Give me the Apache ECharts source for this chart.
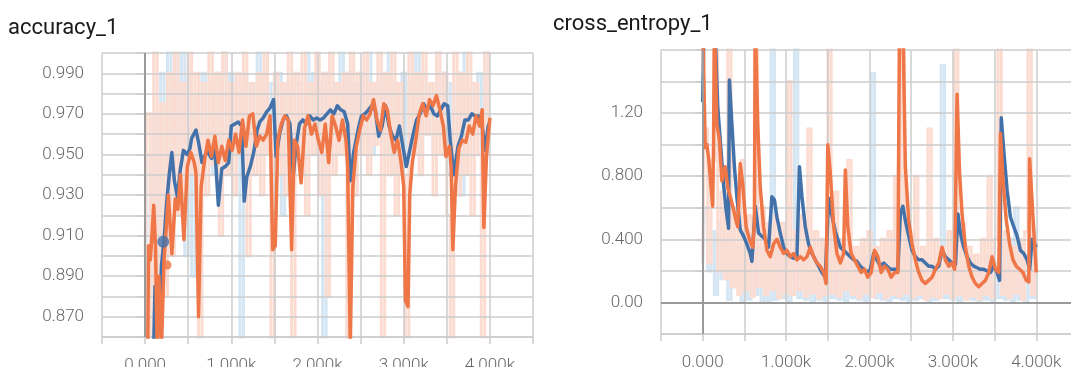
<!DOCTYPE html>
<html>
<head>
<meta charset="utf-8">
<script src="https://cdn.jsdelivr.net/npm/echarts/dist/echarts.min.js"></script>
<style>
html, body { margin: 0; padding: 0; background: #fff; }
#chart { width: 1071px; height: 367px; }
</style>
</head>
<body>
<div id="chart"></div>
<script>
// x values are in thousands of steps
var xTickValues = [0, 1, 2, 3, 4];
var xTickLabels = ['0.000', '1.000k', '2.000k', '3.000k', '4.000k'];
var accTickValues = [0.87, 0.89, 0.91, 0.93, 0.95, 0.97, 0.99];
var accTickLabels = ['0.870', '0.890', '0.910', '0.930', '0.950', '0.970', '0.990'];
var ceTickValues = [0, 0.4, 0.8, 1.2];
var ceTickLabels = ['0.00', '0.400', '0.800', '1.20'];

// raw (unsmoothed) steps
var rawSteps = [0,0.04,0.08,0.12,0.16,0.2,0.24,0.28,0.32,0.36,0.4,0.44,0.48,0.52,0.56,0.6,0.64,0.68,0.72,0.76,0.8,0.84,0.88,0.92,0.96,1,1.04,1.08,1.12,1.16,1.2,1.24,1.28,1.32,1.36,1.4,1.44,1.48,1.52,1.56,1.6,1.64,1.68,1.72,1.76,1.8,1.84,1.88,1.92,1.96,2,2.04,2.08,2.12,2.16,2.2,2.24,2.28,2.32,2.36,2.4,2.44,2.48,2.52,2.56,2.6,2.64,2.68,2.72,2.76,2.8,2.84,2.88,2.92,2.96,3,3.04,3.08,3.12,3.16,3.2,3.24,3.28,3.32,3.36,3.4,3.44,3.48,3.52,3.56,3.6,3.64,3.68,3.72,3.76,3.8,3.84,3.88,3.92,3.96,4];

// accuracy raw values
var accRawOrange = [0.90,0.97,0.86,1.01,0.85,0.975,0.88,0.99,0.90,1.01,
  0.92,0.985,0.93,1.01,0.94,0.99,0.84,0.985,0.93,1.01,
  0.945,0.99,0.91,1.01,0.94,0.985,0.93,0.99,0.95,1.01,
  0.90,0.985,0.94,0.99,0.93,1.01,0.95,0.85,0.99,0.94,
  0.985,0.93,1.01,0.86,0.99,0.945,1.01,0.92,0.985,0.95,
  1.01,0.93,0.99,0.88,1.01,0.94,0.985,0.95,0.99,0.84,
  1.01,0.93,0.99,0.95,1.01,0.94,0.985,0.955,1.01,0.86,
  0.99,0.94,1.01,0.92,0.985,0.94,0.84,1.01,0.95,0.99,
  0.94,1.01,0.96,0.985,0.93,1.01,0.95,0.99,0.92,0.85,
  1.01,0.93,0.99,0.94,1.01,0.92,0.985,0.95,0.85,1.01,
  0.95];
var accRawBlue = [0.84,0.95,0.88,0.97,0.86,0.99,0.90,1.01,0.93,1.01,
  0.95,1.01,0.90,0.99,0.89,0.98,0.94,0.99,0.95,0.985,
  0.94,0.99,0.95,1.01,0.94,0.99,0.95,0.985,0.84,0.99,
  0.95,0.985,0.96,1.01,0.95,0.99,0.96,0.985,0.95,0.99,
  0.92,0.985,0.95,0.99,0.96,0.985,0.95,1.01,0.96,0.99,
  0.95,0.985,0.85,0.99,0.96,0.985,0.95,1.01,0.96,0.99,
  0.93,0.985,0.95,0.99,0.96,1.01,0.95,0.985,0.96,0.99,
  0.95,1.01,0.94,0.985,0.96,0.99,0.95,0.985,0.96,1.01,
  0.95,0.99,0.96,0.985,0.95,1.01,0.96,0.99,0.94,0.985,
  0.95,0.99,0.93,1.01,0.95,0.985,0.96,0.99,0.95,1.01,
  0.96];

// accuracy smoothed [step(k), value]
var accBlue = [[0.10,0.855],[0.115,0.885],[0.13,0.862],[0.15,0.875],[0.17,0.87],[0.19,0.895],[0.22,0.908],[0.25,0.926],[0.28,0.94],[0.31,0.951],
  [0.34,0.937],[0.375,0.929],[0.41,0.943],[0.445,0.952],[0.49,0.950],[0.52,0.953],[0.54,0.958],[0.59,0.962],[0.62,0.956],[0.66,0.946],
  [0.70,0.950],[0.73,0.951],[0.77,0.948],[0.81,0.952],[0.85,0.925],[0.89,0.943],[0.93,0.944],[0.97,0.946],[1.00,0.964],[1.04,0.965],
  [1.08,0.966],[1.12,0.964],[1.15,0.927],[1.18,0.939],[1.22,0.944],[1.26,0.951],[1.30,0.962],[1.33,0.966],[1.37,0.968],[1.41,0.971],
  [1.45,0.973],[1.49,0.977],[1.52,0.949],[1.56,0.96],[1.60,0.967],[1.64,0.969],[1.68,0.965],[1.72,0.94],[1.75,0.954],[1.79,0.965],
  [1.83,0.967],[1.87,0.965],[1.91,0.969],[1.95,0.967],[1.99,0.968],[2.03,0.967],[2.07,0.968],[2.11,0.97],[2.15,0.972],[2.19,0.97],
  [2.23,0.974],[2.27,0.972],[2.31,0.971],[2.35,0.965],[2.38,0.937],[2.42,0.951],[2.47,0.962],[2.51,0.969],[2.55,0.97],[2.59,0.972],
  [2.63,0.974],[2.67,0.972],[2.71,0.959],[2.75,0.964],[2.79,0.974],[2.83,0.964],[2.87,0.959],[2.91,0.957],[2.95,0.964],[2.99,0.954],
  [3.03,0.944],[3.07,0.952],[3.11,0.96],[3.15,0.967],[3.19,0.97],[3.23,0.975],[3.27,0.972],[3.31,0.974],[3.35,0.97],[3.39,0.969],
  [3.43,0.972],[3.47,0.975],[3.51,0.974],[3.54,0.957],[3.58,0.94],[3.63,0.954],[3.67,0.959],[3.71,0.967],[3.75,0.967],[3.79,0.97],
  [3.83,0.969],[3.87,0.969],[3.91,0.964],[3.95,0.952],[3.98,0.964],[4.00,0.966]];
var accOrange = [[0.03,0.85],[0.04,0.905],[0.06,0.898],[0.08,0.91],[0.10,0.925],[0.12,0.905],[0.14,0.855],[0.16,0.89],[0.19,0.855],[0.22,0.898],
  [0.255,0.92],[0.27,0.93],[0.31,0.901],[0.35,0.928],[0.38,0.923],[0.41,0.94],[0.45,0.908],[0.49,0.944],[0.53,0.951],[0.57,0.946],
  [0.59,0.941],[0.62,0.87],[0.65,0.934],[0.69,0.947],[0.73,0.957],[0.77,0.949],[0.81,0.959],[0.85,0.946],[0.89,0.954],[0.93,0.947],
  [0.97,0.957],[1.01,0.952],[1.05,0.96],[1.09,0.951],[1.13,0.967],[1.17,0.954],[1.21,0.969],[1.25,0.97],[1.29,0.954],[1.33,0.959],
  [1.37,0.957],[1.41,0.96],[1.45,0.969],[1.48,0.903],[1.51,0.905],[1.54,0.957],[1.58,0.965],[1.62,0.969],[1.66,0.967],[1.70,0.903],
  [1.73,0.957],[1.77,0.954],[1.81,0.936],[1.85,0.963],[1.89,0.969],[1.93,0.96],[1.97,0.965],[2.01,0.957],[2.05,0.951],[2.09,0.965],
  [2.13,0.946],[2.17,0.969],[2.21,0.964],[2.25,0.957],[2.29,0.967],[2.33,0.957],[2.35,0.944],[2.38,0.855],[2.41,0.934],[2.45,0.954],
  [2.49,0.962],[2.53,0.969],[2.57,0.967],[2.61,0.97],[2.65,0.977],[2.69,0.967],[2.73,0.962],[2.77,0.975],[2.81,0.972],[2.85,0.96],
  [2.89,0.951],[2.93,0.957],[2.97,0.946],[3.00,0.934],[3.02,0.878],[3.05,0.875],[3.07,0.93],[3.10,0.946],[3.14,0.957],[3.18,0.97],
  [3.22,0.975],[3.26,0.969],[3.30,0.977],[3.34,0.974],[3.38,0.979],[3.42,0.972],[3.46,0.964],[3.49,0.949],[3.53,0.954],[3.55,0.944],
  [3.57,0.903],[3.60,0.934],[3.64,0.953],[3.68,0.957],[3.72,0.956],[3.76,0.964],[3.80,0.96],[3.84,0.969],[3.88,0.964],[3.91,0.972],
  [3.93,0.914],[3.96,0.949],[4.00,0.968]];
var accBlueMarker = [[0.21, 0.907]];
var accOrangeMarker = [[0.255, 0.8955]];

// cross entropy raw values
var ceRawOrange = [0.30,1.10,0.25,0.90,1.70,0.20,0.70,0.15,1.70,0.10,
  0.60,0.05,0.90,0.08,0.55,0.04,1.70,0.10,0.60,0.05,
  0.50,0.08,0.55,0.03,0.50,0.06,1.40,0.05,0.45,0.08,
  0.55,0.04,1.10,0.06,0.45,0.03,0.40,0.05,1.70,0.06,
  0.70,0.04,0.40,0.08,0.90,0.05,0.35,0.03,0.40,0.06,
  0.45,0.04,0.35,0.07,0.40,0.03,0.45,0.05,0.80,0.04,
  1.70,0.06,0.45,0.03,0.80,0.05,0.35,0.02,1.10,0.04,
  0.40,0.03,0.35,0.06,0.45,0.03,1.70,0.05,0.50,0.02,
  0.35,0.04,0.30,0.02,0.40,0.05,0.80,0.03,0.40,1.70,
  0.05,0.45,0.03,0.35,0.06,0.40,0.02,0.45,1.70,0.05,
  0.30];
var ceRawBlue = [0.25,0.60,0.20,0.45,0.05,0.50,0.15,0.40,0.02,0.45,
  0.10,0.35,0.00,0.40,0.02,0.45,0.05,0.35,0.01,0.30,
  0.00,1.70,0.02,0.35,0.03,0.40,0.01,0.30,1.70,0.03,
  0.30,0.02,0.35,0.00,0.30,0.02,0.40,0.01,0.50,0.03,
  0.30,0.02,0.35,0.01,0.25,0.03,0.30,0.02,0.35,0.01,
  0.30,1.45,0.03,0.25,0.02,0.30,0.01,0.35,0.03,0.30,
  0.02,0.40,0.01,0.30,0.02,0.25,0.03,0.30,0.01,0.25,
  0.02,0.30,1.50,0.03,0.25,0.02,0.40,0.01,0.25,0.03,
  0.30,0.02,0.25,0.00,0.20,0.02,0.30,0.01,0.25,0.03,
  0.35,0.02,0.40,0.01,0.60,0.02,0.30,0.00,0.25,0.03,
  0.45];

// cross entropy smoothed
var ceBlue = [[0.00,1.27],[0.02,1.9],[0.08,2.1],[0.15,1.7],[0.18,1.24],[0.21,1.03],[0.25,0.75],[0.28,0.59],[0.31,0.47],[0.32,1.41],
  [0.35,1.13],[0.38,0.86],[0.41,0.67],[0.45,0.46],[0.49,0.42],[0.53,0.37],[0.57,0.31],[0.59,0.26],[0.63,0.61],[0.67,0.44],
  [0.71,0.42],[0.75,0.40],[0.79,0.35],[0.83,0.67],[0.86,0.65],[0.89,0.54],[0.93,0.44],[0.97,0.35],[1.01,0.31],[1.05,0.29],
  [1.09,0.28],[1.13,0.29],[1.16,0.86],[1.19,0.67],[1.23,0.48],[1.27,0.37],[1.31,0.31],[1.35,0.27],[1.39,0.23],[1.43,0.19],
  [1.47,0.16],[1.51,0.66],[1.55,0.55],[1.59,0.45],[1.62,0.40],[1.65,0.35],[1.69,0.33],[1.73,0.31],[1.77,0.29],[1.81,0.27],
  [1.85,0.26],[1.89,0.23],[1.93,0.21],[1.97,0.19],[2.01,0.21],[2.05,0.31],[2.09,0.27],[2.13,0.23],[2.17,0.25],[2.21,0.23],
  [2.25,0.21],[2.29,0.21],[2.34,0.21],[2.37,0.56],[2.40,0.61],[2.43,0.52],[2.47,0.42],[2.51,0.33],[2.55,0.29],[2.59,0.27],
  [2.63,0.27],[2.67,0.25],[2.71,0.23],[2.75,0.23],[2.79,0.21],[2.83,0.23],[2.87,0.33],[2.91,0.29],[2.95,0.27],[2.99,0.25],
  [3.03,0.24],[3.06,0.56],[3.09,0.44],[3.13,0.35],[3.17,0.29],[3.21,0.25],[3.25,0.23],[3.29,0.22],[3.33,0.21],[3.37,0.21],
  [3.41,0.20],[3.45,0.19],[3.49,0.23],[3.53,0.19],[3.56,0.14],[3.58,1.17],[3.61,0.96],[3.65,0.71],[3.69,0.54],[3.73,0.48],
  [3.77,0.42],[3.81,0.33],[3.85,0.31],[3.89,0.27],[3.92,0.21],[3.95,0.40],[4.00,0.35]];
var ceOrange = [[0.00,1.8],[0.03,0.98],[0.05,1.0],[0.07,0.92],[0.09,0.8],[0.10,0.73],[0.12,0.61],[0.13,1.0],[0.14,1.8],[0.17,1.13],
  [0.20,1.03],[0.23,0.77],[0.27,0.86],[0.30,0.73],[0.33,0.67],[0.36,0.61],[0.39,0.54],[0.42,0.48],[0.45,0.88],[0.48,0.75],
  [0.52,0.48],[0.56,0.40],[0.60,0.35],[0.62,0.5],[0.63,1.8],[0.66,1.13],[0.69,0.73],[0.73,0.48],[0.77,0.33],[0.81,0.29],
  [0.85,0.37],[0.89,0.40],[0.93,0.35],[0.97,0.31],[1.01,0.33],[1.05,0.29],[1.09,0.31],[1.13,0.27],[1.17,0.29],[1.21,0.27],
  [1.25,0.29],[1.29,0.35],[1.33,0.29],[1.37,0.25],[1.41,0.23],[1.45,0.19],[1.48,0.12],[1.50,1.0],[1.53,0.82],[1.57,0.48],
  [1.61,0.31],[1.65,0.25],[1.69,0.31],[1.71,0.84],[1.74,0.48],[1.78,0.31],[1.82,0.27],[1.86,0.23],[1.90,0.19],[1.94,0.21],
  [1.98,0.16],[2.02,0.19],[2.06,0.33],[2.10,0.29],[2.14,0.19],[2.18,0.23],[2.22,0.21],[2.26,0.16],[2.30,0.19],[2.34,0.19],
  [2.36,1.8],[2.40,1.8],[2.43,0.86],[2.47,0.52],[2.51,0.37],[2.55,0.27],[2.59,0.19],[2.63,0.14],[2.67,0.12],[2.71,0.14],
  [2.75,0.16],[2.79,0.21],[2.83,0.25],[2.87,0.35],[2.91,0.27],[2.95,0.23],[2.99,0.25],[3.02,0.21],[3.05,1.32],[3.08,0.82],
  [3.11,0.56],[3.15,0.35],[3.19,0.23],[3.23,0.16],[3.27,0.12],[3.31,0.10],[3.35,0.12],[3.39,0.14],[3.43,0.19],[3.47,0.29],
  [3.51,0.21],[3.55,0.19],[3.57,1.07],[3.60,0.78],[3.64,0.52],[3.68,0.37],[3.72,0.27],[3.76,0.23],[3.80,0.21],[3.84,0.19],
  [3.88,0.14],[3.91,0.13],[3.92,0.91],[3.96,0.54],[4.00,0.19]];

var fontFamily = 'Roboto, "Helvetica Neue", Arial, sans-serif';
var gridColor = '#cccccc';
var zeroColor = '#9a9a9a';
var blueColor = '#4372aa';
var orangeColor = '#ef7646';
var blueRawColor = '#d4e5f3';
var orangeRawColor = '#fcdcd1';

function pick(values, labels, v) {
    for (var i = 0; i < values.length; i++) {
        if (Math.abs(values[i] - v) < 1e-6) return labels[i];
    }
    return '';
}

function zip(steps, vals) {
    var out = [];
    var n = Math.min(steps.length, vals.length);
    for (var i = 0; i < n; i++) out.push([steps[i], vals[i]]);
    return out;
}

// axes sit above the pale raw stripes (z 2) so grid lines show through
function makeXAxis(gridIndex) {
    return {
        type: 'value', gridIndex: gridIndex, z: 2,
        min: -0.5, max: 4.5, interval: 0.5,
        axisLine: { show: true, onZero: false, lineStyle: { color: gridColor, width: 1.5 } },
        axisTick: { show: true, length: 7, lineStyle: { color: gridColor, width: 1.5 } },
        splitLine: { show: true, lineStyle: { color: gridColor, width: 1.5 } },
        axisLabel: {
            margin: 20, fontSize: 17, fontWeight: 300, color: '#666', fontFamily: fontFamily,
            formatter: function (v) { return pick(xTickValues, xTickLabels, v); }
        }
    };
}

function makeYAxis(gridIndex, min, max, interval, tv, tl) {
    return {
        type: 'value', gridIndex: gridIndex, z: 2,
        min: min, max: max, interval: interval,
        axisLine: { show: true, lineStyle: { color: gridColor, width: 1.5 } },
        axisTick: { show: true, length: 8, lineStyle: { color: gridColor, width: 1.5 } },
        splitLine: { show: true, lineStyle: { color: gridColor, width: 1.5 } },
        axisLabel: {
            margin: 18, fontSize: 17, fontWeight: 300, color: '#666', fontFamily: fontFamily,
            formatter: function (v) { return pick(tv, tl, v); }
        }
    };
}

function lineSeries(idx, data, color, width, z) {
    return {
        type: 'line', xAxisIndex: idx, yAxisIndex: idx, data: data,
        showSymbol: false, symbol: 'none', silent: true, z: z,
        lineStyle: { color: color, width: width, join: 'round' },
        clip: true
    };
}

// raw runs drawn as pale vertical stripes
function rawSeries(idx, data, color, z) {
    var s = lineSeries(idx, data, color, 3, z);
    s.step = 'middle';
    s.lineStyle.join = 'miter';
    return s;
}

var zeroLine = { symbol: ['none', 'none'], silent: true, label: { show: false },
    lineStyle: { color: zeroColor, width: 2, type: 'solid' } };

// empty series that only carry the zero lines
var zeroAcc = lineSeries(0, [], zeroColor, 1, 2.5);
zeroAcc.markLine = Object.assign({}, zeroLine, { data: [{ xAxis: 0 }] });
var zeroCe = lineSeries(1, [], zeroColor, 1, 2.5);
zeroCe.markLine = Object.assign({}, zeroLine, { data: [{ xAxis: 0 }, { yAxis: 0 }] });

var myChart = echarts.init(document.getElementById('chart'), null, { renderer: 'canvas' });
var option = {
    animation: false,
    backgroundColor: '#ffffff',
    title: [
        { text: 'accuracy_1', left: 8, top: 17, padding: 0,
          textStyle: { fontSize: 22, fontWeight: 'normal', color: '#1a1a1a', fontFamily: fontFamily } },
        { text: 'cross_entropy_1', left: 553, top: 13, padding: 0,
          textStyle: { fontSize: 22, fontWeight: 'normal', color: '#1a1a1a', fontFamily: fontFamily } }
    ],
    grid: [
        { left: 102, right: 538, top: 53, bottom: 30, outerBoundsMode: 'none' },
        { left: 661, right: -7, top: 50, bottom: 33, outerBoundsMode: 'none' }
    ],
    xAxis: [makeXAxis(0), makeXAxis(1)],
    yAxis: [
        makeYAxis(0, 0.86, 1.0, 0.01, accTickValues, accTickLabels),
        makeYAxis(1, -0.2, 1.6, 0.2, ceTickValues, ceTickLabels)
    ],
    series: [
        rawSeries(0, zip(rawSteps, accRawBlue), blueRawColor, 1),
        rawSeries(0, zip(rawSteps, accRawOrange), orangeRawColor, 1.5),
        zeroAcc,
        lineSeries(0, accBlue, blueColor, 3.5, 3),
        lineSeries(0, accOrange, orangeColor, 3.5, 4),
        { type: 'scatter', xAxisIndex: 0, yAxisIndex: 0, data: accBlueMarker, symbolSize: 12,
          itemStyle: { color: blueColor }, silent: true, z: 5 },
        { type: 'scatter', xAxisIndex: 0, yAxisIndex: 0, data: accOrangeMarker, symbolSize: 9,
          itemStyle: { color: orangeColor }, silent: true, z: 5 },
        rawSeries(1, zip(rawSteps, ceRawBlue), blueRawColor, 1),
        rawSeries(1, zip(rawSteps, ceRawOrange), orangeRawColor, 1.5),
        zeroCe,
        lineSeries(1, ceBlue, blueColor, 3.5, 3),
        lineSeries(1, ceOrange, orangeColor, 3.5, 4)
    ]
};
myChart.setOption(option);
</script>
</body>
</html>
